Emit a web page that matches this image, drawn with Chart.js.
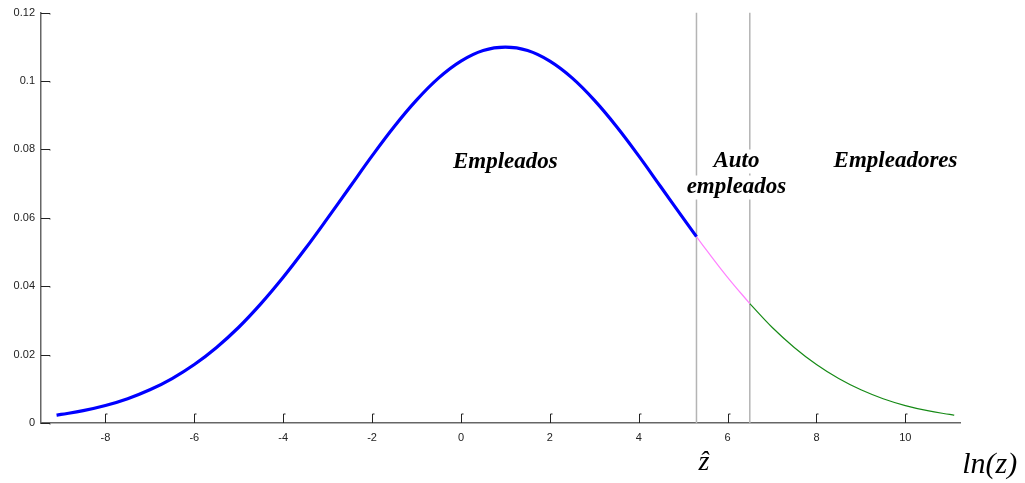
<!DOCTYPE html>
<html lang="es">
<head>
    <meta charset="UTF-8">
    <title>ln(z)</title>
    <script src="https://cdn.jsdelivr.net/npm/chart.js"></script>
    <style>
        body {
            margin: 0;
            background: #ffffff;
        }
        #wrap {
            width: 1025px;
            height: 483px;
            position: relative;
        }
    </style>
</head>
<body>
    <div id="wrap"><canvas id="chart"></canvas></div>

    <script>
        // curve, split in three segments
        const xEmpleados = [-9.1, -9, -8.5, -8, -7.5, -7, -6.5, -6, -5.5, -5, -4.5, -4, -3.5, -3, -2.5, -2, -1.5, -1, -0.5, 0, 0.5, 1, 1.5, 2, 2.5, 3, 3.5, 4, 4.5, 5, 5.3];
        const yEmpleados = [0.0023, 0.0025, 0.0036, 0.0051, 0.0071, 0.0097, 0.0130, 0.0171, 0.0221, 0.0280, 0.0349, 0.0426, 0.0510, 0.0599, 0.0690, 0.0781, 0.0867, 0.0944, 0.1009, 0.1058, 0.1089, 0.1099, 0.1089, 0.1058, 0.1009, 0.0944, 0.0867, 0.0781, 0.0690, 0.0599, 0.0545];

        const xAuto = [5.3, 5.5, 6, 6.5];
        const yAuto = [0.0545, 0.0510, 0.0426, 0.0349];

        const xEmpleadores = [6.5, 7, 7.5, 8, 8.5, 9, 9.5, 10, 10.5, 11, 11.1];
        const yEmpleadores = [0.0349, 0.0280, 0.0221, 0.0171, 0.0130, 0.0097, 0.0071, 0.0051, 0.0036, 0.0025, 0.0023];

        const zHat = 5.3;
        const zUpper = 6.5;

        const xTicks = [-8, -6, -4, -2, 0, 2, 4, 6, 8, 10];
        const yTicks = [0, 0.02, 0.04, 0.06, 0.08, 0.1, 0.12];

        // labels placed in data units
        const regionLabels = [
            { lines: ['Empleados'], x: 1.0, y: 0.0747 },
            { lines: ['Auto', 'empleados'], x: 6.2, y: 0.0750 },
            { lines: ['Empleadores'], x: 9.78, y: 0.0750 }
        ];

        const toPoints = (xs, ys) => xs.map((x, i) => ({ x: x, y: ys[i] }));

        // inward tick marks + text
        const extras = {
            id: 'extras',
            afterDraw(chart) {
                const ctx = chart.ctx;
                const xs = chart.scales.x;
                const ys = chart.scales.y;
                const area = chart.chartArea;
                ctx.save();

                ctx.strokeStyle = '#222';
                ctx.lineWidth = 1;
                xTicks.forEach(v => {
                    const px = Math.round(xs.getPixelForValue(v)) + 0.5;
                    ctx.beginPath();
                    ctx.moveTo(px, area.bottom);
                    ctx.lineTo(px, area.bottom - 9);
                    ctx.lineTo(px + 2, area.bottom - 9);
                    ctx.stroke();
                });
                yTicks.forEach(v => {
                    const py = Math.round(ys.getPixelForValue(v)) + 0.5;
                    ctx.beginPath();
                    ctx.moveTo(area.left, py);
                    ctx.lineTo(area.left + 9, py);
                    ctx.lineTo(area.left + 9, py + 1);
                    ctx.stroke();
                });

                ctx.font = 'bold italic 23px "Liberation Serif", "Times New Roman", serif';
                ctx.textAlign = 'center';
                ctx.textBaseline = 'alphabetic';
                regionLabels.forEach(lab => {
                    const cx = xs.getPixelForValue(lab.x);
                    let by = ys.getPixelForValue(lab.y);
                    lab.lines.forEach(txt => {
                        const w = ctx.measureText(txt).width;
                        ctx.fillStyle = '#ffffff';
                        ctx.fillRect(cx - w / 2 - 1, by - 17, w + 2, 24);
                        ctx.fillStyle = '#000000';
                        ctx.fillText(txt, cx, by);
                        by += 26;
                    });
                });

                ctx.fillStyle = '#000000';
                ctx.font = 'italic 28px "Liberation Serif", "DejaVu Serif", serif';
                ctx.fillText('\u1E91', xs.getPixelForValue(5.47), 470);
                ctx.font = 'italic 30px "Liberation Serif", "Times New Roman", serif';
                ctx.fillText('ln(z)', xs.getPixelForValue(11.9), 473);

                ctx.restore();
            }
        };

        new Chart(document.getElementById('chart'), {
            type: 'line',
            data: {
                datasets: [
                    {
                        data: toPoints(xEmpleados, yEmpleados),
                        borderColor: '#0000ff',
                        borderWidth: 3.2,
                        pointRadius: 0,
                        tension: 0.4,
                        order: 1
                    },
                    {
                        data: toPoints(xAuto, yAuto),
                        borderColor: '#ff80ff',
                        borderWidth: 1.2,
                        pointRadius: 0,
                        tension: 0.4,
                        order: 1
                    },
                    {
                        data: toPoints(xEmpleadores, yEmpleadores),
                        borderColor: '#168a16',
                        borderWidth: 1.2,
                        pointRadius: 0,
                        tension: 0.4,
                        order: 1
                    },
                    {
                        data: [{ x: zHat, y: 0 }, { x: zHat, y: 0.12 }],
                        borderColor: '#b4b4b4',
                        borderWidth: 1.5,
                        pointRadius: 0,
                        order: 2
                    },
                    {
                        data: [{ x: zUpper, y: 0 }, { x: zUpper, y: 0.12 }],
                        borderColor: '#b4b4b4',
                        borderWidth: 1.5,
                        pointRadius: 0,
                        order: 2
                    }
                ]
            },
            options: {
                responsive: true,
                maintainAspectRatio: false,
                animation: false,
                layout: { padding: { top: 12, right: 65, left: 0, bottom: 0 } },
                plugins: {
                    legend: { display: false },
                    tooltip: { enabled: false }
                },
                scales: {
                    x: {
                        type: 'linear',
                        min: -9.45,
                        max: 11.23,
                        afterBuildTicks: s => { s.ticks = xTicks.map(v => ({ value: v })); },
                        afterFit: s => { s.height = 60; },
                        grid: { drawOnChartArea: false, drawTicks: false },
                        border: { color: '#666', width: 1.5 },
                        ticks: {
                            padding: 8,
                            color: '#222',
                            font: { family: '"Liberation Sans", Arial, sans-serif', size: 11 },
                            maxRotation: 0,
                            callback: v => String(v)
                        }
                    },
                    y: {
                        min: 0,
                        max: 0.12,
                        afterBuildTicks: s => { s.ticks = yTicks.map(v => ({ value: v })); },
                        afterFit: s => { s.width = 41; },
                        grid: { drawOnChartArea: false, drawTicks: false },
                        border: { color: '#666', width: 1.5 },
                        ticks: {
                            padding: 6,
                            color: '#222',
                            font: { family: '"Liberation Sans", Arial, sans-serif', size: 11 },
                            callback: v => String(Number(v.toFixed(2)))
                        }
                    }
                }
            },
            plugins: [extras]
        });
    </script>
</body>
</html>
